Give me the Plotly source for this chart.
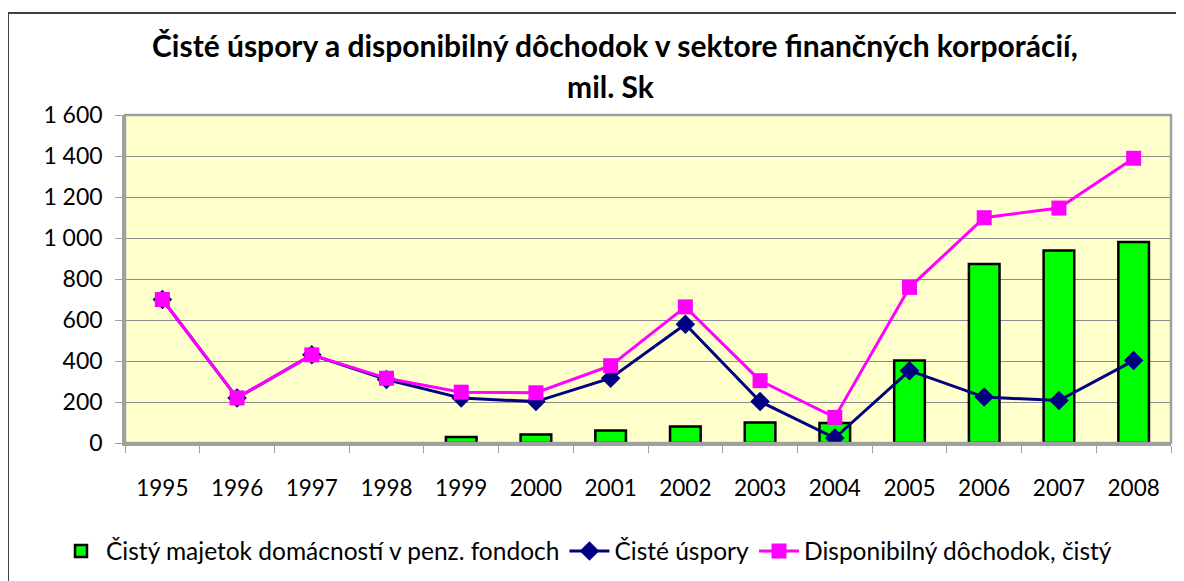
import plotly.graph_objects as go

years = ["1995", "1996", "1997", "1998", "1999", "2000", "2001", "2002",
         "2003", "2004", "2005", "2006", "2007", "2008"]
majetok = [None, None, None, None, 29, 42, 61, 81, 100, 97, 402, 873, 939, 980]
uspory = [700, 220, 430, 310, 219, 202, 316, 579, 202, 24, 353, 224, 207, 402]
dochodok = [700, 220, 430, 316, 248, 245, 377, 664, 304, 125, 759, 1099, 1146, 1389]

# page has an 8px body margin, so the figure is sized/positioned to compensate
OFF = 8
W, H = 1184 - OFF, 581 - OFF
PL, PT, PR, PB = 125, 115, 1171, 443  # plot area in page pixels
L, T = PL - OFF, PT - OFF
R, B = W - (PR - OFF), H - (PB - OFF)
pw, ph = PR - PL, PB - PT

def px(x):
    return (x - PL) / pw

def py(y):
    return (PB - y) / ph

FONT = "Lato, Calibri, Carlito, sans-serif"

fig = go.Figure()
fig.add_trace(go.Bar(
    x=years, y=majetok, name="Čistý majetok domácností v penz. fondoch",
    marker=dict(color="#00FF00", line=dict(color="#000000", width=2.5)),
    width=0.41,
))
fig.add_trace(go.Scatter(
    x=years, y=uspory, name="Čisté úspory", mode="lines+markers",
    line=dict(color="#000080", width=3),
    marker=dict(symbol="diamond", size=15, color="#000080"),
))
fig.add_trace(go.Scatter(
    x=years, y=dochodok, name="Disponibilný dôchodok, čistý", mode="lines+markers",
    line=dict(color="#FF00FF", width=3),
    marker=dict(symbol="square", size=15, color="#FF00FF"),
))

fig.update_layout(
    width=W, height=H,
    margin=dict(l=L, r=R, t=T, b=B, autoexpand=False),
    paper_bgcolor="#FFFFFF",
    plot_bgcolor="#FFFFCC",
    font=dict(family=FONT, size=22, color="#000000"),
    showlegend=True,
    legend=dict(orientation="h", x=px(56), xanchor="left",
                y=py(551), yanchor="middle",
                font=dict(size=24.5), traceorder="normal", itemwidth=40,
                bgcolor="rgba(0,0,0,0)"),
    bargap=0.59,
    annotations=[
        dict(text="<b>Čisté úspory a disponibilný dôchodok v sektore finančných korporácií,</b>",
             x=px(615), y=py(45), xref="paper", yref="paper", showarrow=False,
             xanchor="center", yanchor="middle", font=dict(size=30)),
        dict(text="<b>mil. Sk</b>",
             x=px(611), y=py(86), xref="paper", yref="paper", showarrow=False,
             xanchor="center", yanchor="middle", font=dict(size=30)),
    ],
    shapes=[
        dict(type="rect", xref="paper", yref="paper", x0=px(8), x1=px(1210),
             y0=py(620), y1=py(13), line=dict(color="#404040", width=2),
             fillcolor="rgba(0,0,0,0)", layer="below"),
        dict(type="rect", xref="paper", yref="paper", x0=0, x1=1, y0=0, y1=1,
             line=dict(color="#A0A0A0", width=2.5), fillcolor="rgba(0,0,0,0)",
             layer="above"),
    ],
)

fig.update_xaxes(
    type="category", range=[-0.5, len(years) - 0.5], autorange=False,
    showgrid=False, ticks="outside", tickson="boundaries",
    ticklen=7, tickcolor="#A0A0A0", tickwidth=1,
    showline=True, linecolor="#A0A0A0", linewidth=2.5,
    ticklabelstandoff=23, tickfont=dict(size=22.5),
)
fig.update_yaxes(
    range=[0, 1600], autorange=False, tickvals=list(range(0, 1601, 200)),
    ticktext=["0", "200", "400", "600", "800", "1 000", "1 200", "1 400", "1 600"],
    showgrid=True, gridcolor="#8C8C8C", gridwidth=1,
    ticks="outside", ticklen=7, tickcolor="#A0A0A0",
    showline=True, linecolor="#A0A0A0", linewidth=2.5,
    ticklabelstandoff=8, tickfont=dict(size=23), zeroline=False,
)

fig.write_html("out.html")
